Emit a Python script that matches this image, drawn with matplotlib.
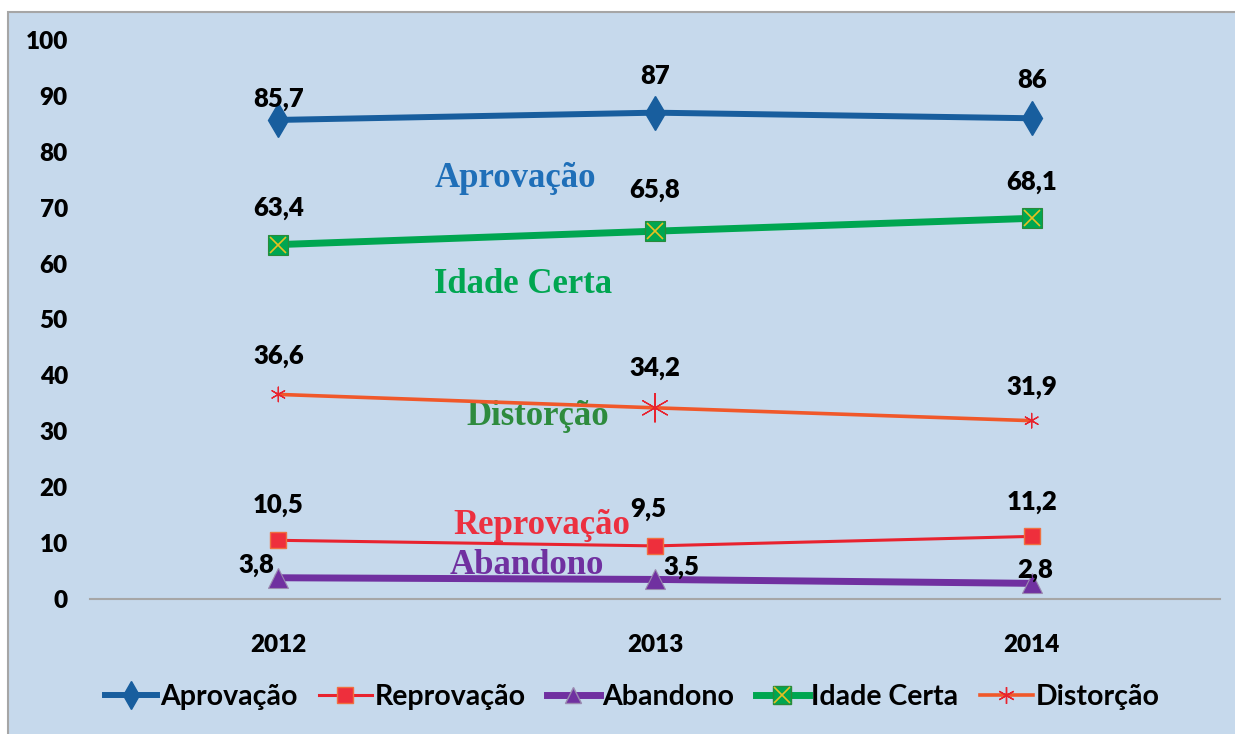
import matplotlib
matplotlib.use("Agg")
import matplotlib.pyplot as plt
from matplotlib.lines import Line2D
from matplotlib.patches import Rectangle
from matplotlib.legend_handler import HandlerTuple

years = ["2012", "2013", "2014"]
aprovacao = [85.7, 87, 86]
reprovacao = [10.5, 9.5, 11.2]
abandono = [3.8, 3.5, 2.8]
idade_certa = [63.4, 65.8, 68.1]
distorcao = [36.6, 34.2, 31.9]

sans = ["Lato", "DejaVu Sans"]
serif = ["Liberation Serif", "DejaVu Serif"]

fig = plt.figure(figsize=(12.35, 7.34), dpi=100)
fig.patches.append(Rectangle((8 / 1235, -0.01), 1.0, 0.9837 + 0.01, transform=fig.transFigure,
                             facecolor="#c6d9ec", edgecolor="#a6a6a6", lw=1.5, zorder=-10))
ax = fig.add_axes([90 / 1235, 135 / 734, 1130 / 1235, 559 / 734])
ax.set_facecolor("none")
ax.set_zorder(5)

x = list(range(len(years)))
c_apr, c_rep, c_aba, c_ida, c_dis = "#185e9e", "#e8232f", "#7030a0", "#00a651", "#f0582a"

ax.plot(x, aprovacao, color=c_apr, lw=4.3, marker="d", ms=17, zorder=5)
ax.plot(x, reprovacao, color=c_rep, lw=2.2, marker="s", ms=12, mfc="#ee2f3c",
        mec="#f07040", mew=1, zorder=5)
ax.plot(x, abandono, color=c_aba, lw=5, marker="^", ms=14, mec="#9a8ab0", mew=0.8, zorder=5)
ax.plot(x, idade_certa, color=c_ida, lw=5, marker="s", ms=14, mec="#2a8a3a", mew=0.8, zorder=5)
ax.plot(x, idade_certa, ls="none", marker="x", ms=12, mec="#e8c020", mew=1.2, zorder=6)
ax.plot(x, distorcao, color=c_dis, lw=2.6, zorder=5)
ax.scatter(x, distorcao, s=[110, 420, 110], marker=(6, 2, 0), color="#e8232f",
           linewidths=0.9, zorder=6)

# value labels
offsets = {
    "apr": [(0, 21), (0, 37), (0, 38)],
    "rep": [(0, 35), (-7, 37), (0, 34)],
    "aba": [(-22, 13), (26, 12), (4, 13)],
    "ida": [(0, 37), (0, 41), (0, 36)],
    "dis": [(0, 38), (0, 40), (0, 34)],
}
series = {"apr": aprovacao, "rep": reprovacao, "aba": abandono,
          "ida": idade_certa, "dis": distorcao}
for key, vals in series.items():
    for i, v in enumerate(vals):
        txt = f"{v:g}".replace(".", ",")
        ax.annotate(txt, (i, v), xytext=offsets[key][i], textcoords="offset pixels",
                    ha="center", va="center", fontsize=18.5, fontweight="heavy",
                    family=sans, color="black", zorder=7)

# inline series names
name_kw = dict(family=serif, fontweight="bold", fontsize=25, ha="center", va="center")
ax.text(0.63, 75.3, "Aprovação", color="#1f6fb8", **name_kw)
ax.text(0.65, 56.3, "Idade Certa", color="#00a651", **name_kw)
ax.text(0.69, 32.6, "Distorção", color="#2e8b3e", **name_kw)
ax.text(0.70, 13.2, "Reprovação", color="#ec3040", **name_kw)
ax.text(0.66, 6.0, "Abandono", color="#7030a0", **name_kw)

ax.set_xlim(-0.5, 2.5)
ax.set_ylim(0, 100)
ax.set_xticks(x)
ax.set_xticklabels(years)
ax.set_yticks(range(0, 101, 10))
for s in ["top", "right", "left"]:
    ax.spines[s].set_visible(False)
ax.spines["bottom"].set_color("#a6a6a6")
ax.spines["bottom"].set_linewidth(1.5)
ax.tick_params(length=0)
ax.tick_params(axis="x", pad=25)
ax.tick_params(axis="y", pad=16)
for lab in ax.get_xticklabels() + ax.get_yticklabels():
    lab.set_family(sans)
    lab.set_fontweight("heavy")
    lab.set_fontsize(17.5)

handles = [
    Line2D([], [], color=c_apr, lw=4.3, marker="d", ms=14),
    Line2D([], [], color=c_rep, lw=2.2, marker="s", ms=11, mfc="#ee2f3c", mec="#f07040"),
    Line2D([], [], color=c_aba, lw=5, marker="^", ms=12, mec="#9a8ab0"),
    (Line2D([], [], color=c_ida, lw=5, marker="s", ms=13, mec="#2a8a3a"),
     Line2D([], [], ls="none", marker="x", ms=11, mec="#e8c020", mew=1.2)),
    Line2D([], [], color=c_dis, lw=2.6, marker=(6, 2, 0), ms=12, mec="#e8232f", mew=1),
]
labels = ["Aprovação", "Reprovação", "Abandono", "Idade Certa", "Distorção"]
fig.legend(handles, labels, loc="center", bbox_to_anchor=(632 / 1235, 1 - 697 / 734),
           ncol=5, frameon=False, handlelength=1.85, handletextpad=0.1, columnspacing=0.75,
           prop={"family": sans, "size": 20.5, "weight": "bold"},
           handler_map={tuple: HandlerTuple(ndivide=1)})

fig.savefig("out.png", dpi=100)
